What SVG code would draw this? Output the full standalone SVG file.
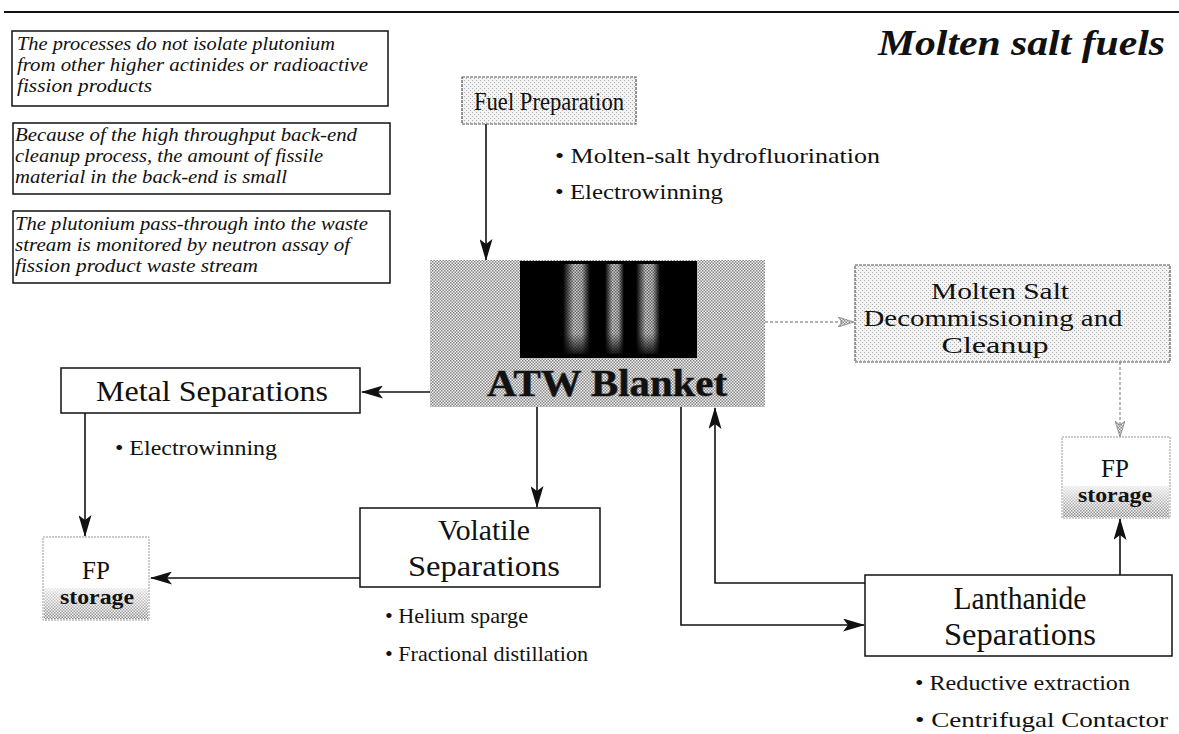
<svg xmlns="http://www.w3.org/2000/svg" width="1179" height="734" viewBox="0 0 1179 734">
<style>
.note{font-family:"Liberation Serif","Times New Roman",serif;font-style:italic;font-size:19.5px;fill:#111}
.lbl{font-family:"Liberation Serif","Times New Roman",serif;fill:#111}
.bul{font-family:"Liberation Serif","Times New Roman",serif;font-size:22px;fill:#111}
.box{fill:#fff;stroke:#111;stroke-width:1.5}
.lbox{fill:url(#lt);stroke:#555;stroke-width:1.2;stroke-dasharray:3 1}
.con{fill:none;stroke:#111;stroke-width:1.6}
.gcon{fill:none;stroke:#9a9a9a;stroke-width:1.4;stroke-dasharray:3 2}
</style>
<defs>
<pattern id="ht" width="3" height="3" patternUnits="userSpaceOnUse"><rect width="3" height="3" fill="#f2f2f2"/><rect width="1.5" height="1.5" fill="#858585"/><rect x="1.5" y="1.5" width="1.5" height="1.5" fill="#858585"/></pattern>
<pattern id="lt" width="4" height="4" patternUnits="userSpaceOnUse"><rect width="4" height="4" fill="#f3f3f3"/><rect width="1" height="1" fill="#b0b0b0"/><rect x="2" y="2" width="1" height="1" fill="#b0b0b0"/></pattern>
<pattern id="dk" width="3" height="3" patternUnits="userSpaceOnUse"><rect width="1.5" height="1.5" fill="#000"/><rect x="1.5" y="1.5" width="1.5" height="1.5" fill="#000"/></pattern>
<linearGradient id="stripe" x1="0" y1="0" x2="1" y2="0"><stop offset="0" stop-color="#000"/><stop offset="0.4" stop-color="#d0d0d0"/><stop offset="0.7" stop-color="#c0c0c0"/><stop offset="1" stop-color="#000"/></linearGradient>
<linearGradient id="fadeB" x1="0" y1="0" x2="0" y2="1"><stop offset="0.75" stop-color="#000" stop-opacity="0"/><stop offset="1" stop-color="#000" stop-opacity="1"/></linearGradient>
<linearGradient id="fpG" x1="0" y1="0" x2="0" y2="1"><stop offset="0" stop-color="#fff" stop-opacity="0.8"/><stop offset="1" stop-color="#fff" stop-opacity="0"/></linearGradient>
<marker id="ah" viewBox="0 0 22 13" refX="21" refY="6.5" markerWidth="22" markerHeight="13" markerUnits="userSpaceOnUse" orient="auto"><path d="M0,0 L22,6.5 L0,13 L5,6.5 z" fill="#111"/></marker>
<marker id="gah" viewBox="0 0 16 10" refX="15" refY="5" markerWidth="16" markerHeight="10" markerUnits="userSpaceOnUse" orient="auto"><path d="M0,0 L16,5 L0,10 L4,5 z" fill="url(#ht)" stroke="#888" stroke-width="0.8"/></marker>
</defs>
<rect width="1179" height="734" fill="#fff"/>
<line x1="4" y1="12" x2="1179" y2="12" stroke="#111" stroke-width="2"/>

<g id="note1">
<rect x="12" y="31" width="376" height="75" class="box"/>
<text class="note" x="17" y="50" textLength="318" lengthAdjust="spacingAndGlyphs">The processes do not isolate plutonium</text>
<text class="note" x="17" y="71" textLength="351" lengthAdjust="spacingAndGlyphs">from other higher actinides or radioactive</text>
<text class="note" x="17" y="92" textLength="135" lengthAdjust="spacingAndGlyphs">fission products</text>
</g>
<g id="note2">
<rect x="13" y="123" width="377" height="71" class="box"/>
<text class="note" x="15" y="141" textLength="342" lengthAdjust="spacingAndGlyphs">Because of the high throughput back-end</text>
<text class="note" x="15" y="162" textLength="308" lengthAdjust="spacingAndGlyphs">cleanup process, the amount of fissile</text>
<text class="note" x="15" y="183" textLength="272" lengthAdjust="spacingAndGlyphs">material in the back-end is small</text>
</g>
<g id="note3">
<rect x="13" y="211" width="377" height="72" class="box"/>
<text class="note" x="15" y="230" textLength="353" lengthAdjust="spacingAndGlyphs">The plutonium pass-through into the waste</text>
<text class="note" x="15" y="251" textLength="335" lengthAdjust="spacingAndGlyphs">stream is monitored by neutron assay of</text>
<text class="note" x="15" y="272" textLength="243" lengthAdjust="spacingAndGlyphs">fission product waste stream</text>
</g>

<g id="title">
<text class="lbl" x="878" y="55" font-size="36" font-weight="bold" font-style="italic" textLength="287" lengthAdjust="spacingAndGlyphs">Molten salt fuels</text>
</g>

<g id="connectors">
<line class="con" x1="486" y1="124" x2="486" y2="260" marker-end="url(#ah)"/>
<line class="con" x1="430" y1="392" x2="362" y2="392" marker-end="url(#ah)"/>
<line class="con" x1="85" y1="413" x2="85" y2="536" marker-end="url(#ah)"/>
<line class="con" x1="537" y1="407" x2="537" y2="507" marker-end="url(#ah)"/>
<line class="con" x1="360" y1="578" x2="151" y2="578" marker-end="url(#ah)"/>
<polyline class="con" points="681,407 681,625 864,625" marker-end="url(#ah)"/>
<polyline class="con" points="865,583 715,583 715,408" marker-end="url(#ah)"/>
<line class="con" x1="1120" y1="575" x2="1120" y2="519" marker-end="url(#ah)"/>
<line class="gcon" x1="765" y1="322" x2="853" y2="322" marker-end="url(#gah)"/>
<line class="gcon" x1="1120" y1="362" x2="1120" y2="436" marker-end="url(#gah)"/>
</g>

<g id="fuel-prep">
<rect x="462" y="77" width="174" height="47" class="lbox"/>
<text class="lbl" x="549" y="110" font-size="26" text-anchor="middle" textLength="150" lengthAdjust="spacingAndGlyphs">Fuel Preparation</text>
<text class="bul" x="555" y="163" textLength="325" lengthAdjust="spacingAndGlyphs">• Molten-salt hydrofluorination</text>
<text class="bul" x="555" y="199" textLength="168" lengthAdjust="spacingAndGlyphs">• Electrowinning</text>
</g>

<g id="atw-blanket">
<rect x="430" y="260" width="335" height="147" fill="url(#ht)"/>
<rect x="520" y="261" width="177" height="97" fill="#000"/>
<rect x="563" y="264" width="27" height="90" fill="url(#stripe)"/>
<rect x="605" y="264" width="19" height="90" fill="url(#stripe)"/>
<rect x="636" y="264" width="24" height="90" fill="url(#stripe)"/>
<rect x="560" y="262" width="100" height="95" fill="url(#dk)" opacity="0.5"/>
<rect x="560" y="262" width="100" height="95" fill="url(#fadeB)"/>
<text class="lbl" x="607" y="396" font-size="38" font-weight="bold" text-anchor="middle" textLength="240" lengthAdjust="spacingAndGlyphs" stroke="#777" stroke-width="1.2" paint-order="stroke">ATW Blanket</text>
</g>

<g id="metal-sep">
<rect x="61" y="368" width="299" height="45" class="box"/>
<text class="lbl" x="212" y="401" font-size="30" text-anchor="middle" textLength="232" lengthAdjust="spacingAndGlyphs">Metal Separations</text>
<text class="bul" x="115" y="455" textLength="162" lengthAdjust="spacingAndGlyphs">• Electrowinning</text>
</g>

<g id="fp-left">
<rect x="43" y="537" width="106" height="83" fill="#fff" stroke="#999" stroke-width="1" stroke-dasharray="2 1"/>
<rect x="44" y="588" width="104" height="31" fill="url(#ht)"/>
<rect x="44" y="588" width="104" height="31" fill="url(#fpG)"/>
<text class="lbl" x="96" y="579" font-size="25" text-anchor="middle">FP</text>
<text class="lbl" x="97" y="604" font-size="20" font-weight="bold" text-anchor="middle" textLength="74" lengthAdjust="spacingAndGlyphs">storage</text>
</g>

<g id="volatile-sep">
<rect x="360" y="508" width="240" height="79" class="box"/>
<text class="lbl" x="484" y="540" font-size="29" text-anchor="middle" textLength="92" lengthAdjust="spacingAndGlyphs">Volatile</text>
<text class="lbl" x="484" y="576" font-size="29" text-anchor="middle" textLength="152" lengthAdjust="spacingAndGlyphs">Separations</text>
<text class="bul" x="385" y="623" textLength="143" lengthAdjust="spacingAndGlyphs">• Helium sparge</text>
<text class="bul" x="385" y="661" textLength="203" lengthAdjust="spacingAndGlyphs">• Fractional distillation</text>
</g>

<g id="molten-salt">
<rect x="855" y="265" width="315" height="97" class="lbox"/>
<text class="lbl" x="1000" y="299" font-size="24" text-anchor="middle" textLength="138" lengthAdjust="spacingAndGlyphs">Molten Salt</text>
<text class="lbl" x="993" y="326" font-size="24" text-anchor="middle" textLength="259" lengthAdjust="spacingAndGlyphs">Decommissioning and</text>
<text class="lbl" x="995" y="353" font-size="24" text-anchor="middle" textLength="107" lengthAdjust="spacingAndGlyphs">Cleanup</text>
</g>

<g id="fp-right">
<rect x="1062" y="437" width="108" height="81" fill="#fff" stroke="#999" stroke-width="1" stroke-dasharray="2 1"/>
<rect x="1063" y="486" width="106" height="31" fill="url(#ht)"/>
<rect x="1063" y="486" width="106" height="31" fill="url(#fpG)"/>
<text class="lbl" x="1115" y="477" font-size="25" text-anchor="middle">FP</text>
<text class="lbl" x="1115" y="502" font-size="20" font-weight="bold" text-anchor="middle" textLength="74" lengthAdjust="spacingAndGlyphs">storage</text>
</g>

<g id="lanthanide-sep">
<rect x="865" y="575" width="307" height="81" class="box"/>
<text class="lbl" x="1020" y="609" font-size="31" text-anchor="middle" textLength="133" lengthAdjust="spacingAndGlyphs">Lanthanide</text>
<text class="lbl" x="1020" y="645" font-size="31" text-anchor="middle" textLength="152" lengthAdjust="spacingAndGlyphs">Separations</text>
<text class="bul" x="915" y="690" textLength="215" lengthAdjust="spacingAndGlyphs">• Reductive extraction</text>
<text class="bul" x="915" y="727" textLength="253" lengthAdjust="spacingAndGlyphs">• Centrifugal Contactor</text>
</g>
</svg>
